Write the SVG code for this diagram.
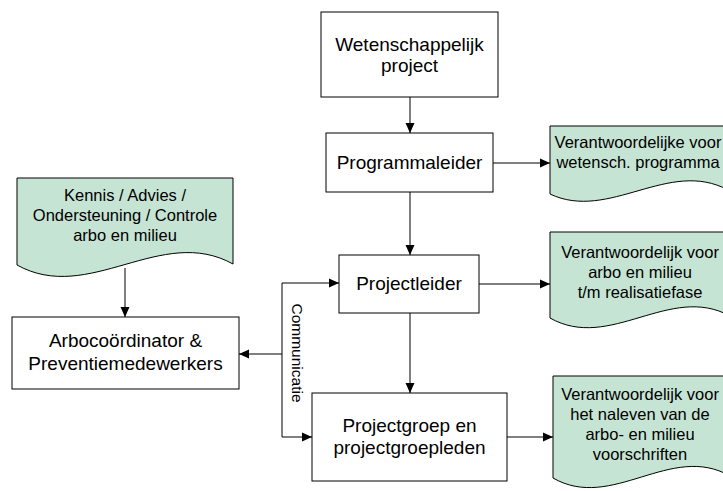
<svg xmlns="http://www.w3.org/2000/svg" width="723" height="491" viewBox="0 0 723 491">
<style>
.box{fill:#fff;stroke:#000;stroke-width:1}
.doc{fill:#c6e4d4;stroke:#000;stroke-width:1}
.t{font-family:"Liberation Sans",Arial,sans-serif;font-size:19px;fill:#000;text-anchor:middle}
.d{font-family:"Liberation Sans",Arial,sans-serif;font-size:16.5px;fill:#000;text-anchor:middle}
.c{fill:none;stroke:#000;stroke-width:1}
</style>
<defs>
<marker id="ah" markerWidth="10" markerHeight="10" refX="10" refY="5" orient="auto" markerUnits="userSpaceOnUse">
<path d="M0,0.5 L10,5 L0,9.5 Z" fill="#000"/>
</marker>
</defs>
<rect width="723" height="491" fill="#fff"/>
<g id="wetenschappelijk">
<rect class="box" x="321" y="12" width="177" height="85"/>
<text class="t" x="409.5" y="51">Wetenschappelijk</text>
<text class="t" x="409.5" y="72">project</text>
</g>
<g id="programmaleider">
<rect class="box" x="326" y="133" width="167" height="59"/>
<text class="t" x="409.5" y="169">Programmaleider</text>
</g>
<g id="projectleider">
<rect class="box" x="339" y="255" width="140" height="58"/>
<text class="t" x="409" y="290">Projectleider</text>
</g>
<g id="projectgroep">
<rect class="box" x="312" y="393" width="195" height="88"/>
<text class="t" x="409.5" y="432">Projectgroep en</text>
<text class="t" x="409.5" y="454">projectgroepleden</text>
</g>
<g id="arbo">
<rect class="box" x="12" y="317" width="227" height="72"/>
<text class="t" x="125.5" y="347">Arbocoördinator &amp;</text>
<text class="t" x="125.5" y="370">Preventiemedewerkers</text>
</g>
<g id="kennis">
<path class="doc" d="M17,178 H233 V264 C161,224 89,305 17,265 Z"/>
<text class="d" x="125" y="201">Kennis / Advies /</text>
<text class="d" x="125" y="221">Ondersteuning / Controle</text>
<text class="d" x="125" y="241">arbo en milieu</text>
</g>
<g id="doc-programma">
<path class="doc" d="M550,126 H728 V190 C669,158 609,222 550,194 Z"/>
<text class="d" x="638" y="148">Verantwoordelijke voor</text>
<text class="d" x="638" y="168">wetensch. programma</text>
</g>
<g id="doc-projectleider">
<path class="doc" d="M550,232 H730 V316 C670,283 610,352 550,318 Z"/>
<text class="d" x="640" y="258">Verantwoordelijk voor</text>
<text class="d" x="640" y="278">arbo en milieu</text>
<text class="d" x="640" y="298">t/m realisatiefase</text>
</g>
<g id="doc-projectgroep">
<path class="doc" d="M553,376 H730 V476 C671,442 612,512 553,478 Z"/>
<text class="d" x="640" y="400">Verantwoordelijk voor</text>
<text class="d" x="640" y="420">het naleven van de</text>
<text class="d" x="640" y="440">arbo- en milieu</text>
<text class="d" x="640" y="460">voorschriften</text>
</g>
<g id="connectors">
<line class="c" x1="410" y1="97" x2="410" y2="133" marker-end="url(#ah)"/>
<line class="c" x1="410" y1="192" x2="410" y2="255" marker-end="url(#ah)"/>
<line class="c" x1="410" y1="313" x2="410" y2="393" marker-end="url(#ah)"/>
<line class="c" x1="493" y1="163" x2="550" y2="163" marker-end="url(#ah)"/>
<line class="c" x1="479" y1="284" x2="550" y2="284" marker-end="url(#ah)"/>
<line class="c" x1="507" y1="437" x2="553" y2="437" marker-end="url(#ah)"/>
<line class="c" x1="125" y1="268" x2="125" y2="317" marker-end="url(#ah)"/>
<polyline class="c" points="282,354 282,283 339,283" marker-end="url(#ah)"/>
<polyline class="c" points="282,354 282,437 312,437" marker-end="url(#ah)"/>
<line class="c" x1="282" y1="354" x2="239" y2="354" marker-end="url(#ah)"/>
<text font-family="Liberation Sans, Arial, sans-serif" font-size="15.5" text-anchor="middle" transform="translate(292,353) rotate(90)">Communicatie</text>
</g>
</svg>
